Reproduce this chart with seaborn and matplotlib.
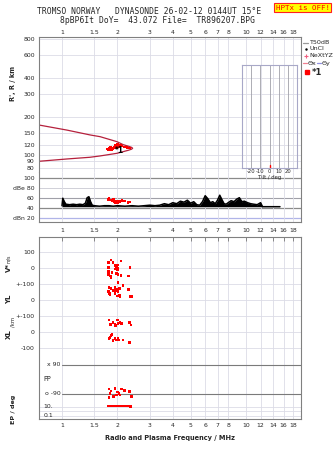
import numpy as np
import pandas as pd
import matplotlib
matplotlib.use("Agg")
import matplotlib.pyplot as plt
import seaborn as sns
from matplotlib.lines import Line2D
from matplotlib.ticker import FixedLocator, FixedFormatter, NullLocator

# ---------------- data ----------------
freq_ticks = [1, 1.5, 2, 3, 4, 5, 6, 7, 8, 10, 12, 14, 16, 18]
freq_labels = ["1", "1.5", "2", "3", "4", "5", "6", "7", "8", "10", "12", "14", "16", "18"]
height_ticks = [800, 600, 400, 300, 200, 150, 120, 100, 90, 80]

# model profile curve (frequency MHz, height km)
curve_f = [0.70, 0.75, 1.065, 1.42, 1.61, 1.99, 2.15, 2.30, 2.39, 2.42,
           2.39, 2.30, 2.15, 1.99, 1.61, 1.42, 1.065, 0.75, 0.70]
curve_h = [176, 172, 157, 144, 139.6, 127.6, 121, 117.5, 115.2, 113.4,
           111.6, 109.5, 106.7, 103.6, 98.8, 96.5, 93.6, 89.8, 89.3]

# ionogram echoes
iono_f = [1.76, 1.79, 1.82, 1.85, 1.88, 1.80, 1.84, 1.90, 1.93, 1.96, 1.99,
          2.02, 1.95, 2.00, 2.05, 2.08, 2.12, 2.18, 2.26, 2.33, 1.87, 1.98]
iono_h = [112, 110, 111, 113, 112, 114, 115, 114, 116, 118, 119,
          121, 120, 122, 117, 119, 118, 116, 115, 114, 110, 115]

# noise / amplitude trace (dB)
noise_f = [1.00, 1.01, 1.03, 1.05, 1.10, 1.15, 1.20, 1.25, 1.30, 1.34,
           1.37, 1.40, 1.43, 1.46, 1.50, 1.60, 1.70, 1.80, 1.90, 2.00,
           2.20, 2.40, 2.60, 2.80, 3.00, 3.20, 3.40, 3.60, 3.80, 4.00,
           4.20, 4.40, 4.60, 4.80, 5.00, 5.20, 5.40, 5.60, 5.80, 6.00,
           6.20, 6.40, 6.60, 6.80, 7.00, 7.20, 7.40, 7.60, 7.80, 8.00,
           8.30, 8.60, 8.90, 9.20, 9.50, 9.80, 10.2, 10.6, 11.0, 11.5,
           12.0, 12.3, 13.0, 14.0, 15.3]
noise_db = [44, 59, 52, 47, 46, 47, 46, 47, 46, 49,
            60, 62, 52, 45, 44, 43, 44, 44, 43, 44,
            43, 44, 43, 44, 45, 44, 45, 48, 46, 50,
            48, 53, 51, 55, 49, 52, 46, 45, 52, 64,
            58, 50, 52, 48, 55, 65, 56, 48, 47, 50,
            54, 52, 57, 60, 52, 53, 50, 48, 47, 46,
            50, 42, 42, 42, 42]
dbe_red_f = [1.78, 1.80, 1.84, 1.88, 1.92, 1.95, 1.98, 2.02, 2.06, 2.12, 2.18, 2.28, 2.34, 1.90, 2.00]
dbe_red_db = [56, 58, 55, 54, 52, 50, 53, 51, 52, 54, 53, 50, 51, 57, 49]

# Doppler velocity V* (m/s)
v_f = [1.85, 2.09, 1.79, 1.89, 1.96, 1.79, 1.99, 2.02, 1.94, 2.34, 1.79, 1.87,
       1.98, 2.02, 1.79, 1.83, 2.09, 2.30, 1.85, 2.00, 1.97, 2.01]
v_val = [52, 45, 37, 37, 17, 4, 8, 0, -4, 4, -21, -25,
         -31, -38, -38, -48, -46, -48, -59, -10, -2, 20]
# YL (km)
yl_f = [2.02, 2.15, 1.80, 1.85, 1.94, 1.98, 2.05, 2.30, 1.79, 1.89, 2.02,
        1.82, 1.94, 2.05, 2.00, 1.81, 2.35, 2.39, 2.07, 1.90, 1.97]
yl_val = [110, 91, 79, 75, 79, 69, 74, 69, 54, 58, 54,
          38, 44, 33, 28, 44, 23, 23, 21, 62, 60]
# XL (km)
xl_f = [1.80, 2.00, 2.33, 1.89, 1.94, 2.02, 2.07, 1.83, 1.96, 2.37, 2.11,
        1.87, 1.85, 1.80, 1.94, 2.02, 1.98, 2.04, 1.89, 2.15, 2.33, 1.82]
xl_val = [77, 77, 62, 62, 50, 55, 62, 50, 42, 45, 55,
          -13, -21, -38, -38, -38, -48, -48, -52, -48, -63, -33]
# EP (deg)
ep_f = [1.80, 1.94, 2.11, 2.33, 1.82, 1.98, 2.04, 1.80, 1.91, 2.07, 2.39, 1.85, 2.00, 2.18]
ep_val = [-60, -56, -60, -77, -87, -98, -87, -115, -108, -98, -108, -72, -80, -70]
pp_f = [1.78, 1.81, 1.84, 1.87, 1.90, 1.93, 1.96, 1.99, 2.02, 2.05, 2.09, 2.13, 2.18, 2.24, 2.30, 2.36]
pp_val = [13, 14, 13, 13, 14, 13, 13, 14, 13, 14, 13, 13, 14, 13, 14, 12]

tilt_ticks = [-20, -10, 0, 10, 20]
tilt_obs = [0]

# ---------------- figure ----------------
sns.set_style("white")
plt.rcParams["font.family"] = ["DejaVu Sans"]
W, H = 335, 451
fig = plt.figure(figsize=(W / 100, H / 100), dpi=100)


def box(l, t, r, b):
    return [l / W, 1 - b / H, (r - l) / W, (b - t) / H]


def fx(px):
    return px / W


def fy(py):
    return 1 - py / H


GRID = "#dcdce6"
SPINE = "#808080"
TFS = 4.4
XMIN, XMAX = 0.75, 19.9

ax1 = fig.add_axes(box(39, 37, 301, 172))
ax2 = fig.add_axes(box(39, 172, 301, 221.7))
ax3 = fig.add_axes(box(39, 237, 301, 419))
ax4 = fig.add_axes(box(241.7, 65, 297.3, 167.7))

for ax in (ax1, ax2, ax3):
    ax.set_xscale("log")
    ax.set_xlim(XMIN, XMAX)
    ax.xaxis.set_major_locator(FixedLocator(freq_ticks))
    ax.xaxis.set_major_formatter(FixedFormatter(freq_labels))
    ax.xaxis.set_minor_locator(NullLocator())
    for s in ax.spines.values():
        s.set_color(SPINE)
        s.set_linewidth(0.8)

# ---- ionogram ----
ax1.set_yscale("log")
sns.lineplot(x=curve_f, y=curve_h, sort=False, estimator=None, color="#b5203c",
             lw=0.9, ax=ax1)
sns.scatterplot(x=iono_f, y=iono_h, marker="s", s=3.5, color="red", edgecolor="none",
                ax=ax1, zorder=4)
ax1.text(2.05, 109, "*1", fontsize=5.5, color="black", ha="center", va="center",
         fontweight="bold", zorder=5)
ax1.set_ylim(74.1, 833)
ax1.yaxis.set_major_locator(FixedLocator(height_ticks))
ax1.yaxis.set_major_formatter(FixedFormatter([str(h) for h in height_ticks]))
ax1.yaxis.set_minor_locator(NullLocator())
ax1.grid(True, which="major", color=GRID, lw=0.6)
ax1.xaxis.tick_top()
ax1.tick_params(axis="x", length=0, pad=1.5, labelsize=TFS)
ax1.tick_params(axis="y", length=2, width=0.6, color=SPINE, pad=1, labelsize=TFS)
ax1.spines["bottom"].set_visible(False)
ax1.set_xlabel("")
ax1.set_ylabel("")

# ---- dB panel ----
ax2.fill_between(noise_f, 42, noise_db, color="black", lw=0)
sns.lineplot(x=noise_f, y=noise_db, sort=False, estimator=None, color="black",
             lw=1.1, ax=ax2)
sns.scatterplot(x=dbe_red_f, y=dbe_red_db, marker="s", s=3.5, color="red",
                edgecolor="none", ax=ax2, zorder=4)
ax2.set_ylim(12, 111.4)
for lev, col, lw in [(100, "#8a8a8a", 0.9), (80, "#d0d0d8", 0.7), (60, "#a0a0a8", 0.8),
                     (40, "#8a8a8a", 0.9), (20, "#b0b4e8", 0.9)]:
    ax2.axhline(lev, color=col, lw=lw, zorder=0.5)
ax2.grid(True, axis="x", color=GRID, lw=0.6)
ax2.yaxis.set_major_locator(FixedLocator([100, 80, 60, 40, 20]))
ax2.yaxis.set_major_formatter(FixedFormatter(["100", "dBe 80", "60", "40", "dBn 20"]))
ax2.tick_params(axis="y", length=2, width=0.6, color=SPINE, pad=1, labelsize=TFS)
ax2.tick_params(axis="x", length=0, pad=4.5, labelsize=TFS)
ax2.spines["top"].set_visible(False)
ax2.set_xlabel("")
ax2.set_ylabel("")

# ---- bottom panel (stacked bands) ----
EP0 = -694
ax3.set_ylim(-942, 195.6)
sns.scatterplot(x=v_f, y=v_val, marker="s", s=3.5, color="red", edgecolor="none", ax=ax3)
sns.scatterplot(x=yl_f, y=np.array(yl_val) - 200, marker="s", s=3.5, color="red",
                edgecolor="none", ax=ax3)
sns.scatterplot(x=xl_f, y=np.array(xl_val) - 400, marker="s", s=3.5, color="red",
                edgecolor="none", ax=ax3)
sns.scatterplot(x=ep_f, y=np.array(ep_val) + EP0, marker="s", s=3.5, color="red",
                edgecolor="none", ax=ax3)
sns.scatterplot(x=pp_f, y=-865 + (np.log10(pp_val) - 1) * 28, marker="s", s=3.5,
                color="red", edgecolor="none", ax=ax3)
ax3.grid(True, axis="x", color=GRID, lw=0.6)
for yv in [100, 0, -100, -200, -300, -400, -500, -865, -893, -921]:
    ax3.axhline(yv, color=GRID, lw=0.6, zorder=0.5)
for yv in [EP0 + 90, EP0 - 90]:
    ax3.axhline(yv, xmin=(np.log10(1) - np.log10(XMIN)) / (np.log10(XMAX) - np.log10(XMIN)),
                color="#7a7a7a", lw=0.8, zorder=0.6)
ax3.yaxis.set_major_locator(FixedLocator([100, 0, -100, -200, -300, -400, -500]))
ax3.yaxis.set_major_formatter(FixedFormatter(["100", "0", "+-100", "0", "+-100", "0", "-100"]))
ax3.tick_params(axis="y", length=2, width=0.6, color=SPINE, pad=1, labelsize=TFS)
ax3.tick_params(axis="x", which="major", top=True, bottom=False, direction="in",
                length=3, width=0.6, color="#777777", pad=3, labelsize=TFS)
ax3.set_xlabel("")
ax3.set_ylabel("")
ax3.text(0.985, EP0 + 90, "x 90", fontsize=TFS, ha="right", va="center")
ax3.text(0.985, EP0 - 90, "o -90", fontsize=TFS, ha="right", va="center")
ax3.text(0.895, -865, "10.", fontsize=TFS, ha="right", va="center")
ax3.text(0.895, -921, "0.1", fontsize=TFS, ha="right", va="center")
ax3.text(0.83, EP0, "PP", fontsize=TFS + 0.3, ha="center", va="center")

# ---- tilt inset ----
ax4.set_facecolor("none")
ax4.set_xlim(-30, 30)
ax4.set_ylim(0, 1)
for t in tilt_ticks:
    ax4.axvline(t, color="#a0a0a8", lw=0.6)
for t in tilt_obs:
    ax4.axvline(t, ymin=0, ymax=0.03, color="red", lw=1.0)
for s in ax4.spines.values():
    s.set_color("#a8a8c8")
    s.set_linewidth(0.8)
ax4.set_xticks(tilt_ticks)
ax4.set_xticklabels([str(t) for t in tilt_ticks])
ax4.set_yticks([])
ax4.tick_params(axis="x", length=0, pad=1, labelsize=3.8)
ax4.set_xlabel("Tilt / deg", fontsize=3.8, labelpad=0.3)

# ---- texts ----
mono = "DejaVu Sans Mono"
fig.text(fx(149), fy(12), "TROMSO NORWAY   DYNASONDE 26-02-12 0144UT 15°E",
         family=mono, fontsize=5.8, ha="center", va="center")
fig.text(fx(157.5), fy(20.5), "8pBP6It DoY=  43.072 File=  TR896207.BPG",
         family=mono, fontsize=5.8, ha="center", va="center")
fig.text(fx(302.5), fy(7.5), "HPTx is OFF!", family=mono, fontsize=5.4, color="red",
         ha="center", va="center",
         bbox=dict(facecolor="#ffff00", edgecolor="#ff2020", pad=1.0, lw=0.8))

fig.text(fx(13), fy(83), "R', R / km", rotation=90, fontsize=4.8, fontweight="bold",
         ha="center", va="center")
fig.text(fx(9), fy(268), "V*", rotation=90, fontsize=5, fontweight="bold", ha="center", va="center")
fig.text(fx(9), fy(259), "m/s", rotation=90, fontsize=3.3, ha="center", va="center")
fig.text(fx(9), fy(299), "YL", rotation=90, fontsize=5, fontweight="bold", ha="center", va="center")
fig.text(fx(13), fy(322), "/km", rotation=90, fontsize=3.8, ha="center", va="center")
fig.text(fx(9), fy(334), "XL", rotation=90, fontsize=5, fontweight="bold", ha="center", va="center")
fig.text(fx(13), fy(409), "EP / deg", rotation=90, fontsize=4.6, fontweight="bold",
         ha="center", va="center")
fig.text(fx(170), fy(438), "Radio and Plasma Frequency / MHz", fontsize=4.8,
         fontweight="bold", ha="center", va="center")

# legend (manual)
LFS = 4.6
fig.add_artist(Line2D([fx(303), fx(308)], [fy(42.7)] * 2, color="#9a9a9a", lw=0.9))
fig.text(fx(309.5), fy(42.7), "T50dB", fontsize=LFS, va="center")
fig.add_artist(Line2D([fx(305.5)], [fy(48.7)], marker=".", ms=1.5, color="black", lw=0))
fig.text(fx(309.5), fy(48.7), "UnCl", fontsize=LFS, va="center")
fig.add_artist(Line2D([fx(305.5)], [fy(55.7)], marker="+", ms=3.5, mew=0.8,
                      color="#f06080", lw=0))
fig.text(fx(309.5), fy(55.7), "NeXtYZ", fontsize=LFS, va="center")
fig.add_artist(Line2D([fx(302.7), fx(307.3)], [fy(63.3)] * 2, color="#f08090", lw=0.9))
fig.text(fx(307.8), fy(63.3), "Θx", fontsize=LFS, va="center")
fig.add_artist(Line2D([fx(316.5), fx(321)], [fy(63.3)] * 2, color="#9090e0", lw=0.9))
fig.text(fx(321.3), fy(63.3), "Θy", fontsize=LFS, va="center")
fig.add_artist(Line2D([fx(306.5)], [fy(72.3)], marker="s", ms=2.3, color="red", lw=0))
fig.text(fx(311.5), fy(72.3), "*1", fontsize=6, fontweight="bold", va="center")

fig.savefig("out.png", dpi=100)
